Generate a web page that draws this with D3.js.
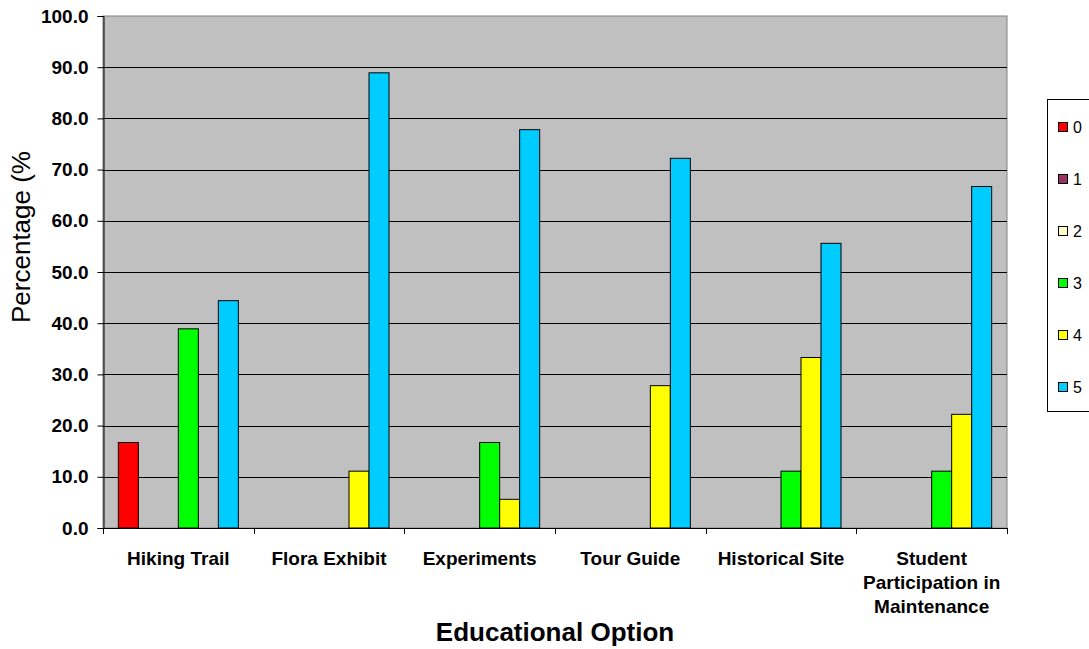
<!DOCTYPE html>
<html>
<head>
<meta charset="utf-8">
<script src="https://cdn.jsdelivr.net/npm/d3@7"></script>
<style>
  body { margin: 0; background: #fff; }
  text { font-family: Arial, "Liberation Sans", sans-serif; }
</style>
</head>
<body>
<svg id="chart" width="1089" height="649"></svg>
<script>
// data
var categories = [
    ["Hiking Trail"],
    ["Flora Exhibit"],
    ["Experiments"],
    ["Tour Guide"],
    ["Historical Site"],
    ["Student", "Participation in", "Maintenance"]
];
var seriesNames = ["0", "1", "2", "3", "4", "5"];
var seriesColors = ["#FF0000", "#993366", "#FFFFCC", "#00FF00", "#FFFF00", "#00CCFF"];
var s0 = [16.7, 0, 0, 0, 0, 0];
var s1 = [0, 0, 0, 0, 0, 0];
var s2 = [0, 0, 0, 0, 0, 0];
var s3 = [38.9, 0, 16.7, 0, 11.1, 11.1];
var s4 = [0, 11.1, 5.6, 27.8, 33.3, 22.2];
var s5 = [44.4, 88.9, 77.8, 72.2, 55.6, 66.7];
var yTicks = [0, 10, 20, 30, 40, 50, 60, 70, 80, 90, 100];

var series = [s0, s1, s2, s3, s4, s5];

var svg = d3.select("#chart");
var plotL = 103, plotR = 1007, plotT = 16, plotB = 528;

var x0 = d3.scaleBand()
    .domain(d3.range(categories.length))
    .range([plotL, plotR])
    .paddingInner(0)
    .paddingOuter(0);

var x1 = d3.scaleBand()
    .domain(d3.range(seriesNames.length))
    .range([0, x0.bandwidth()])
    .paddingOuter(0.766)
    .paddingInner(0);

var y = d3.scaleLinear().domain([0, 100]).range([plotB, plotT]);

// plot background
svg.append("rect")
    .attr("x", plotL).attr("y", plotT)
    .attr("width", plotR - plotL).attr("height", plotB - plotT)
    .attr("fill", "#C0C0C0")
    .attr("stroke", "#808080")
    .attr("stroke-width", 1);

// gridlines
svg.append("g")
    .selectAll("line")
    .data(yTicks.filter(function (d) { return d > 0 && d < 100; }))
    .enter().append("line")
    .attr("x1", plotL).attr("x2", plotR)
    .attr("y1", function (d) { return Math.round(y(d)) + 0.5; })
    .attr("y2", function (d) { return Math.round(y(d)) + 0.5; })
    .attr("stroke", "#000")
    .attr("stroke-width", 1);

// bars (zero values are not drawn)
series.forEach(function (vals, si) {
    var pts = vals.map(function (v, ci) { return { ci: ci, v: v }; })
        .filter(function (p) { return p.v > 0; });
    svg.append("g")
        .selectAll("rect")
        .data(pts)
        .enter().append("rect")
        .attr("x", function (d) { return x0(d.ci) + x1(si); })
        .attr("y", function (d) { return y(d.v); })
        .attr("width", x1.bandwidth())
        .attr("height", function (d) { return y(0) - y(d.v); })
        .attr("fill", seriesColors[si])
        .attr("stroke", "#000")
        .attr("stroke-width", 1);
});

// y axis
var yAxis = d3.axisLeft(y)
    .tickValues(yTicks)
    .tickSize(6)
    .tickPadding(9)
    .tickFormat(d3.format(".1f"));

var yg = svg.append("g")
    .attr("transform", "translate(" + (plotL + 0.5) + ",0)")
    .call(yAxis);
yg.selectAll("text")
    .style("font-size", "19px")
    .style("font-weight", "bold")
    .attr("fill", "#000");
yg.select(".domain").attr("stroke", "#000");
yg.selectAll(".tick line").attr("stroke", "#000");

// x axis line and ticks at category edges
svg.append("line")
    .attr("x1", plotL).attr("x2", plotR)
    .attr("y1", plotB + 0.5).attr("y2", plotB + 0.5)
    .attr("stroke", "#000");

svg.append("g")
    .selectAll("line")
    .data(d3.range(categories.length + 1))
    .enter().append("line")
    .attr("x1", function (d) { return Math.round(plotL + d * x0.step()) + 0.5; })
    .attr("x2", function (d) { return Math.round(plotL + d * x0.step()) + 0.5; })
    .attr("y1", plotB).attr("y2", plotB + 6)
    .attr("stroke", "#000");

// category labels
var catLabels = svg.append("g")
    .selectAll("text")
    .data(categories)
    .enter().append("text")
    .attr("x", function (d, i) { return x0(i) + x0.bandwidth() / 2; })
    .attr("y", 565)
    .attr("text-anchor", "middle")
    .style("font-size", "19px")
    .style("font-weight", "bold");

catLabels.each(function (lines) {
    var t = d3.select(this);
    lines.forEach(function (ln, k) {
        t.append("tspan")
            .attr("x", t.attr("x"))
            .attr("dy", k === 0 ? 0 : 24)
            .text(ln);
    });
});

// axis titles
svg.append("text")
    .attr("x", (plotL + plotR) / 2)
    .attr("y", 641)
    .attr("text-anchor", "middle")
    .style("font-size", "26px")
    .style("font-weight", "bold")
    .text("Educational Option");

svg.append("text")
    .attr("transform", "translate(30,323) rotate(-90)")
    .attr("text-anchor", "start")
    .style("font-size", "26px")
    .text("Percentage (%");

// legend
var legend = svg.append("g");
legend.append("rect")
    .attr("x", 1047.5).attr("y", 99.5)
    .attr("width", 60).attr("height", 312)
    .attr("fill", "#fff")
    .attr("stroke", "#000");

var items = legend.selectAll("g.item")
    .data(seriesNames)
    .enter().append("g")
    .attr("class", "item")
    .attr("transform", function (d, i) { return "translate(0," + (127 + i * 52) + ")"; });

items.append("rect")
    .attr("x", 1058.5).attr("y", -4.5)
    .attr("width", 9).attr("height", 9)
    .attr("fill", function (d, i) { return seriesColors[i]; })
    .attr("stroke", "#000");

items.append("text")
    .attr("x", 1073)
    .attr("y", 6)
    .style("font-size", "16px")
    .text(function (d) { return d; });
</script>
</body>
</html>
